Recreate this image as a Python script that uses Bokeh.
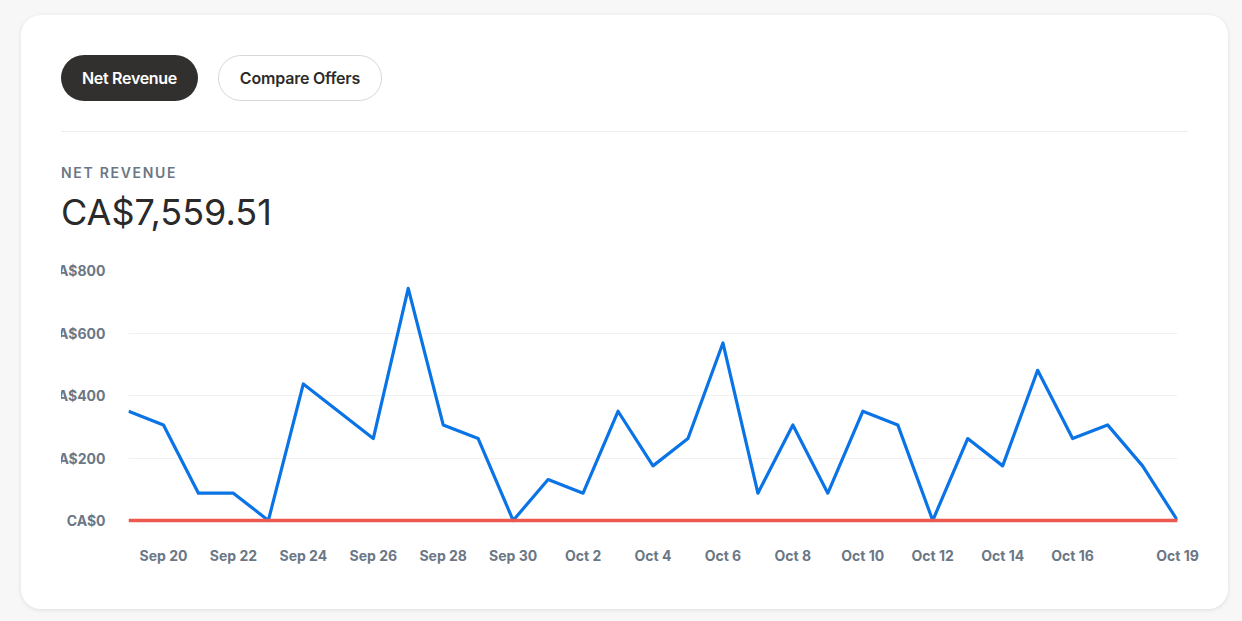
from bokeh.plotting import figure
from bokeh.models import Div, Range1d, FixedTicker, ColumnDataSource
from bokeh.layouts import column
from bokeh.embed import file_html
from bokeh.resources import INLINE

# ---------------- data ----------------
dates = ["Sep 19", "Sep 20", "Sep 21", "Sep 22", "Sep 23", "Sep 24", "Sep 25", "Sep 26",
         "Sep 27", "Sep 28", "Sep 29", "Sep 30", "Oct 1", "Oct 2", "Oct 3", "Oct 4",
         "Oct 5", "Oct 6", "Oct 7", "Oct 8", "Oct 9", "Oct 10", "Oct 11", "Oct 12",
         "Oct 13", "Oct 14", "Oct 15", "Oct 16", "Oct 17", "Oct 18", "Oct 19"]
net_revenue = [349.58, 305.88, 87.39, 87.39, 0.0, 436.97, 349.58, 262.18,
               742.85, 305.88, 262.18, 0.0, 131.09, 87.39, 349.58, 174.79,
               262.18, 568.06, 87.39, 305.88, 87.39, 349.58, 305.88, 0.0,
               262.18, 174.79, 480.67, 262.18, 305.88, 174.79, 0.0]
refunds = [0, 0, 0, 0, 0, 0, 0, 0, 0, 0, 0, 0, 0, 0, 0, 0,
           0, 0, 0, 0, 0, 0, 0, 0, 0, 0, 0, 0, 0, 0, 0]
x_tick_labels = ["Sep 20", "Sep 22", "Sep 24", "Sep 26", "Sep 28", "Sep 30", "Oct 2",
                 "Oct 4", "Oct 6", "Oct 8", "Oct 10", "Oct 12", "Oct 14", "Oct 16", "Oct 19"]
y_ticks = [0, 200, 400, 600, 800]
y_tick_labels = ["CA$0", "CA$200", "CA$400", "CA$600", "CA$800"]
tabs = ["Net Revenue", "Compare Offers"]
metric_title = "NET REVENUE"
metric_total = "CA$7,559.51"

# ---------------- header (HTML) ----------------
header_html = f"""
<div style="position:relative;width:1207px;height:245px;font-family:Inter,sans-serif;">
  <div style="position:absolute;left:40px;top:40px;width:137px;height:46px;border-radius:23px;
       background:#32302e;color:#ffffff;font-size:16px;font-weight:600;letter-spacing:-0.3px;
       display:flex;align-items:center;justify-content:center;">{tabs[0]}</div>
  <div style="position:absolute;left:197px;top:40px;width:164px;height:46px;border-radius:23px;
       box-sizing:border-box;border:1px solid #d8d8d8;background:#ffffff;color:#2e2c2a;
       font-size:16px;font-weight:600;letter-spacing:-0.2px;
       display:flex;align-items:center;justify-content:center;">{tabs[1]}</div>
  <div style="position:absolute;left:40px;top:116px;width:1127px;height:1px;background:#ededed;"></div>
  <div style="position:absolute;left:40px;top:151px;font-size:14px;line-height:14px;
       letter-spacing:1.7px;color:#6b7785;font-weight:600;white-space:nowrap;">{metric_title}</div>
  <div style="position:absolute;left:40px;top:179px;font-size:36px;line-height:36px;
       color:#2a2a2a;font-weight:400;white-space:nowrap;">{metric_total}</div>
</div>
"""
header = Div(text=header_html, width=1207, height=245, margin=(0, 0, 0, 0))

# ---------------- chart ----------------
x = list(range(len(dates)))
src = ColumnDataSource(dict(x=x, revenue=net_revenue, refunds=refunds))

p = figure(width=1207, height=329, output_backend="svg", toolbar_location=None,
           x_range=Range1d(0, len(dates) - 1), y_range=Range1d(-9.6, 800),
           min_border_left=107, min_border_right=51, min_border_top=10, min_border_bottom=66,
           margin=(0, 0, 0, 0), styles={"clip-path": "inset(0px 0px 0px 40px)"})
p.background_fill_color = "#ffffff"
p.border_fill_color = None
p.outline_line_color = None

p.line("x", "revenue", source=src, line_color="#0a74e6", line_width=3.2, line_join="round")
p.line("x", "refunds", source=src, line_color="#ec5a4f", line_width=3.5)

tick_pos = [dates.index(t) for t in x_tick_labels]
p.xaxis.ticker = FixedTicker(ticks=tick_pos)
p.xaxis.major_label_overrides = {i: t for i, t in zip(tick_pos, x_tick_labels)}
p.yaxis.ticker = FixedTicker(ticks=y_ticks)
p.yaxis.major_label_overrides = {v: t for v, t in zip(y_ticks, y_tick_labels)}

for ax in (p.xaxis[0], p.yaxis[0]):
    ax.axis_line_color = None
    ax.major_tick_line_color = None
    ax.minor_tick_line_color = None
    ax.major_tick_out = 0
    ax.major_tick_in = 0
    ax.major_label_text_font = "Inter"
    ax.major_label_text_font_size = "14px"
    ax.major_label_text_font_style = "bold"
    ax.major_label_text_color = "#6b7785"
p.xaxis.major_label_standoff = 23
p.yaxis.major_label_standoff = 23

p.xgrid.grid_line_color = None
p.ygrid.grid_line_color = "#f1f1f1"
p.ygrid.grid_line_width = 1

card = column(header, p, width=1207, height=594, margin=(15, 0, 0, 21),
              styles={"background-color": "#ffffff", "border-radius": "20px",
                      "box-shadow": "0 1px 4px rgba(0,0,0,0.10)"})
page = column(card, width=1242, height=621, styles={"background-color": "#f7f7f7"})

open("out.html", "w").write(file_html(page, INLINE))
